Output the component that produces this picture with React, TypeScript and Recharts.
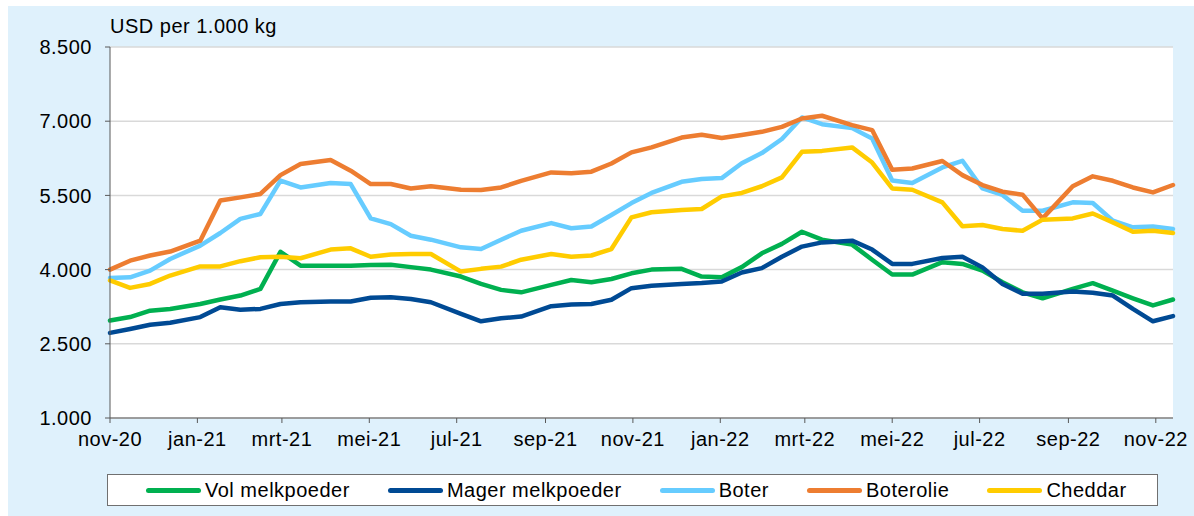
import React from 'react';
import { LineChart, Line, XAxis, YAxis, CartesianGrid } from 'recharts';

// GDT auction dates (biweekly)
const dates = [
  '2020-11-03', '2020-11-17', '2020-12-01', '2020-12-15',
  '2021-01-05', '2021-01-19', '2021-02-02', '2021-02-16', '2021-03-02', '2021-03-16',
  '2021-04-06', '2021-04-20', '2021-05-04', '2021-05-18', '2021-06-01', '2021-06-15',
  '2021-07-06', '2021-07-20', '2021-08-03', '2021-08-17', '2021-09-07', '2021-09-21',
  '2021-10-05', '2021-10-19', '2021-11-02', '2021-11-16', '2021-12-07', '2021-12-21',
  '2022-01-04', '2022-01-18', '2022-02-01', '2022-02-15', '2022-03-01', '2022-03-15',
  '2022-04-05', '2022-04-19', '2022-05-03', '2022-05-17', '2022-06-07', '2022-06-21',
  '2022-07-05', '2022-07-19', '2022-08-02', '2022-08-16', '2022-09-06', '2022-09-20',
  '2022-10-04', '2022-10-18', '2022-11-01', '2022-11-15',
];

const volMelkpoeder = [
  2970, 3040, 3170, 3205, 3305, 3395, 3475, 3610, 4360, 4080,
  4080, 4080, 4095, 4100, 4050, 4000, 3860, 3710, 3590, 3540,
  3690, 3790, 3745, 3810, 3925, 4000, 4015, 3860, 3845, 4050,
  4330, 4520, 4765, 4605, 4505, 4200, 3900, 3900, 4150, 4115,
  3980, 3745, 3540, 3420, 3610, 3725, 3575, 3420, 3275, 3395,
];

const magerMelkpoeder = [
  2720, 2800, 2885, 2925, 3040, 3240, 3190, 3205, 3305, 3340,
  3355, 3355, 3430, 3440, 3405, 3340, 3105, 2955, 3015, 3050,
  3260, 3295, 3305, 3390, 3625, 3675, 3710, 3730, 3760, 3940,
  4030, 4260, 4465, 4550, 4585, 4405, 4115, 4115, 4235, 4260,
  4045, 3710, 3510, 3510, 3555, 3530, 3475, 3205, 2955, 3060,
];

const boter = [
  3830, 3845, 3980, 4215, 4485, 4740, 5025, 5125, 5800, 5660,
  5750, 5730, 5035, 4920, 4685, 4605, 4450, 4415, 4605, 4785,
  4940, 4835, 4870, 5105, 5345, 5550, 5775, 5830, 5850, 6150,
  6355, 6640, 7075, 6940, 6860, 6650, 5800, 5750, 6065, 6200,
  5640, 5510, 5190, 5190, 5360, 5345, 4990, 4855, 4870, 4820,
];

const boterolie = [
  4000, 4180, 4285, 4365, 4585, 5395, 5460, 5530, 5910, 6135,
  6215, 6000, 5730, 5730, 5640, 5685, 5615, 5610, 5660, 5795,
  5965, 5950, 5980, 6145, 6370, 6470, 6670, 6725, 6660, 6720,
  6785, 6885, 7055, 7110, 6920, 6820, 6020, 6045, 6195, 5910,
  5710, 5575, 5515, 5035, 5685, 5885, 5795, 5660, 5560, 5710,
];

const cheddar = [
  3780, 3630, 3710, 3880, 4065, 4065, 4170, 4250, 4260, 4230,
  4405, 4430, 4260, 4305, 4315, 4315, 3960, 4015, 4060, 4200,
  4315, 4260, 4285, 4415, 5055, 5160, 5205, 5225, 5480, 5550,
  5685, 5865, 6380, 6400, 6470, 6165, 5640, 5615, 5360, 4875,
  4900, 4820, 4785, 5010, 5035, 5135, 4955, 4765, 4785, 4740,
];

const tickDates = [
  '2020-11-03', '2021-01-03', '2021-03-03', '2021-05-03', '2021-07-03', '2021-09-03', '2021-11-03',
  '2022-01-03', '2022-03-03', '2022-05-03', '2022-07-03', '2022-09-03', '2022-11-03',
];
const tickLabels = [
  'nov-20', 'jan-21', 'mrt-21', 'mei-21', 'jul-21', 'sep-21', 'nov-21',
  'jan-22', 'mrt-22', 'mei-22', 'jul-22', 'sep-22', 'nov-22',
];
const yTicks = [1000, 2500, 4000, 5500, 7000, 8500];

const series = [
  { key: 'vol', name: 'Vol melkpoeder', color: '#00B050', values: volMelkpoeder },
  { key: 'mager', name: 'Mager melkpoeder', color: '#004A94', values: magerMelkpoeder },
  { key: 'boter', name: 'Boter', color: '#66CCFF', values: boter },
  { key: 'boterolie', name: 'Boterolie', color: '#ED7D31', values: boterolie },
  { key: 'cheddar', name: 'Cheddar', color: '#FFCC00', values: cheddar },
];

const start = Date.parse(dates[0]);
const dayOf = (s: string) => Math.round((Date.parse(s) - start) / 86400000);

const data = dates.map((d, i) => {
  const row: any = { t: dayOf(d) };
  series.forEach((s) => { row[s.key] = s.values[i]; });
  return row;
});

const tickDays = tickDates.map(dayOf);
const lastDay = dayOf('2022-11-15');

const fmtY = (v: number) => String(v).replace(/\B(?=(\d{3})+(?!\d))/g, '.');
const fmtX = (v: number) => tickLabels[tickDays.indexOf(v)] ?? '';

const axisColor = '#595959';
const fs = 20;

export default function App() {
  return (
    <div style={{
      position: 'absolute', left: 0, top: 0, width: 1194, height: 516, background: '#ffffff',
      fontFamily: '"Liberation Sans", Arial, sans-serif', letterSpacing: '0.5px', color: '#000',
    }}>
      <div style={{ position: 'absolute', left: 8, top: 6, width: 1186, height: 510, background: '#DFF1FC' }} />
      <div style={{ position: 'absolute', left: 110, top: 16, fontSize: fs, lineHeight: '20px' }}>
        USD per 1.000 kg
      </div>
      <div style={{ position: 'absolute', left: 0, top: 0 }}>
        <LineChart width={1194} height={516} data={data} margin={{ top: 47, right: 21, bottom: 68, left: 0 }}>
          <CartesianGrid vertical={false} stroke="#d9d9d9" strokeWidth={1.5} fill="#ffffff" />
          <XAxis
            type="number"
            dataKey="t"
            domain={[0, lastDay]}
            ticks={tickDays}
            interval={0}
            tickFormatter={fmtX}
            height={30}
            tickSize={5}
            tickMargin={9}
            axisLine={{ stroke: axisColor }}
            tickLine={{ stroke: axisColor }}
            tick={{ fontSize: fs, fill: '#000' }}
          />
          <YAxis
            type="number"
            domain={[1000, 8500]}
            ticks={yTicks}
            interval={0}
            tickFormatter={fmtY}
            width={110}
            tickSize={5}
            tickMargin={13}
            axisLine={{ stroke: axisColor }}
            tickLine={{ stroke: axisColor }}
            tick={{ fontSize: fs, fill: '#000' }}
          />
          {series.map((s) => (
            <Line
              key={s.key}
              type="linear"
              dataKey={s.key}
              name={s.name}
              stroke={s.color}
              strokeWidth={4.5}
              strokeLinejoin="round"
              strokeLinecap="round"
              dot={false}
              activeDot={false}
              isAnimationActive={false}
            />
          ))}
        </LineChart>
      </div>
      <div style={{
        position: 'absolute', left: 107, top: 474, width: 1051, height: 32, boxSizing: 'border-box',
        border: '1.5px solid #707070', background: '#ffffff', display: 'flex', alignItems: 'center',
        paddingLeft: 38, gap: 38,
      }}>
        {series.map((s) => (
          <div key={s.key} style={{ display: 'flex', alignItems: 'center' }}>
            <span style={{ display: 'inline-block', width: 55, height: 5, borderRadius: 3, background: s.color, marginRight: 4 }} />
            <span style={{ fontSize: fs, lineHeight: '20px' }}>{s.name}</span>
          </div>
        ))}
      </div>
    </div>
  );
}
